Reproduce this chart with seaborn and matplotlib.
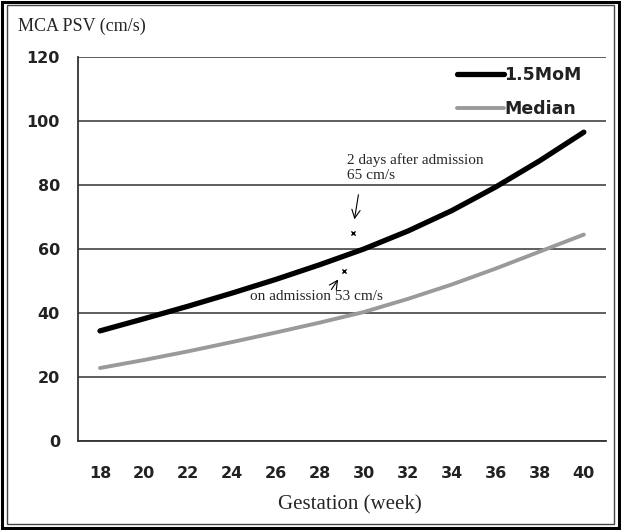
import matplotlib
matplotlib.use('Agg')
import matplotlib.pyplot as plt
import seaborn as sns
import pandas as pd
from matplotlib.patches import Rectangle
from matplotlib.lines import Line2D

# Data
weeks = [18, 20, 22, 24, 26, 28, 30, 32, 34, 36, 38, 40]
mom_15 = [34.4, 38.2, 42.1, 46.2, 50.5, 55.1, 60.0, 65.6, 72.0, 79.4, 87.6, 96.5]
median = [22.8, 25.3, 28.0, 30.9, 33.9, 37.0, 40.3, 44.4, 48.9, 53.9, 59.2, 64.5]
obs_weeks = [29.5, 29.1]
obs_psv = [65, 53]

df = pd.DataFrame({'week': weeks * 2,
                   'psv': mom_15 + median,
                   'series': ['1.5MoM'] * len(weeks) + ['Median'] * len(weeks)})

sns.set_style('white')
plt.rcParams['font.family'] = ['DejaVu Sans']

fig = plt.figure(figsize=(6.21, 5.30), dpi=100)
ax = fig.add_axes([0.1256, 0.168, 0.85, 0.7245])

g = sns.lineplot(data=df, x='week', y='psv', hue='series',
                 palette={'1.5MoM': 'black', 'Median': '#9a9a9a'}, ax=ax, legend=False)
g.lines[0].set_linewidth(3.8)
g.lines[1].set_linewidth(2.8)

# observation markers
ax.scatter(obs_weeks, obs_psv, marker='x', s=9, color='black', linewidths=1, zorder=5)

serif = ['Liberation Serif', 'DejaVu Serif']
arrow = dict(arrowstyle='->, head_length=0.6, head_width=0.3', color='black', lw=0.8)
ax.annotate('', xy=(29.55, 68.4), xytext=(29.77, 77.8), arrowprops=arrow)
ax.text(29.23, 87.8, '2 days after admission', family=serif, fontsize=11, va='center')
ax.text(29.23, 83.1, '65 cm/s', family=serif, fontsize=11, va='center')
ax.annotate('', xy=(28.9, 51.2), xytext=(28.45, 46.6), arrowprops=arrow)
ax.text(24.8, 45.0, 'on admission 53 cm/s', family=serif, fontsize=11, va='center')

# legend
handles = [Line2D([], [], color='black', lw=3.8), Line2D([], [], color='#9a9a9a', lw=2.8)]
ax.legend(handles, ['1.5MoM', 'Median'], loc='upper left', bbox_to_anchor=(0.688, 1.016),
          frameon=False, handlelength=2.7, handletextpad=0.05, labelspacing=0.9,
          prop={'size': 12.5, 'weight': 'bold'}, labelcolor='#222222')

# axes
ax.set_ylim(0, 120)
ax.set_xlim(17, 41)
ax.set_yticks(range(0, 121, 20))
ax.set_xticks(range(17, 42, 2))
ax.set_xticklabels([])
ax.set_xticks(weeks, minor=True)
ax.set_xticklabels([str(w) for w in weeks], minor=True)
ax.tick_params(axis='x', which='major', length=5, width=1.2, color='#333333', direction='out')
ax.tick_params(axis='x', which='minor', length=0, pad=18, labelsize=11.5, labelcolor='#222222')
ax.tick_params(axis='y', length=8, width=1.2, color='#333333', direction='out', pad=5,
               labelsize=11.5, labelcolor='#222222')
for lab in ax.get_xticklabels(minor=True) + ax.get_yticklabels():
    lab.set_fontweight('bold')
ax.grid(axis='y', color='#333333', lw=1.1)
ax.set_axisbelow(True)
for s in ['top', 'right']:
    ax.spines[s].set_visible(False)
for s in ['left', 'bottom']:
    ax.spines[s].set_color('#333333')
    ax.spines[s].set_linewidth(1.3)
ax.set_xlabel('')
ax.set_ylabel('')

fig.text(0.029, 0.951, 'MCA PSV (cm/s)', family=serif, fontsize=13, va='center')
fig.text(0.563, 0.047, 'Gestation (week)', family=serif, fontsize=15, ha='center', va='center')

# double frame
fig.patches.append(Rectangle((0.003, 0.004), 0.994, 0.992, transform=fig.transFigure,
                             fill=False, ec='black', lw=2.2))
fig.patches.append(Rectangle((0.011, 0.011), 0.978, 0.979, transform=fig.transFigure,
                             fill=False, ec='#444444', lw=1.0))

fig.savefig('out.png', dpi=100)
